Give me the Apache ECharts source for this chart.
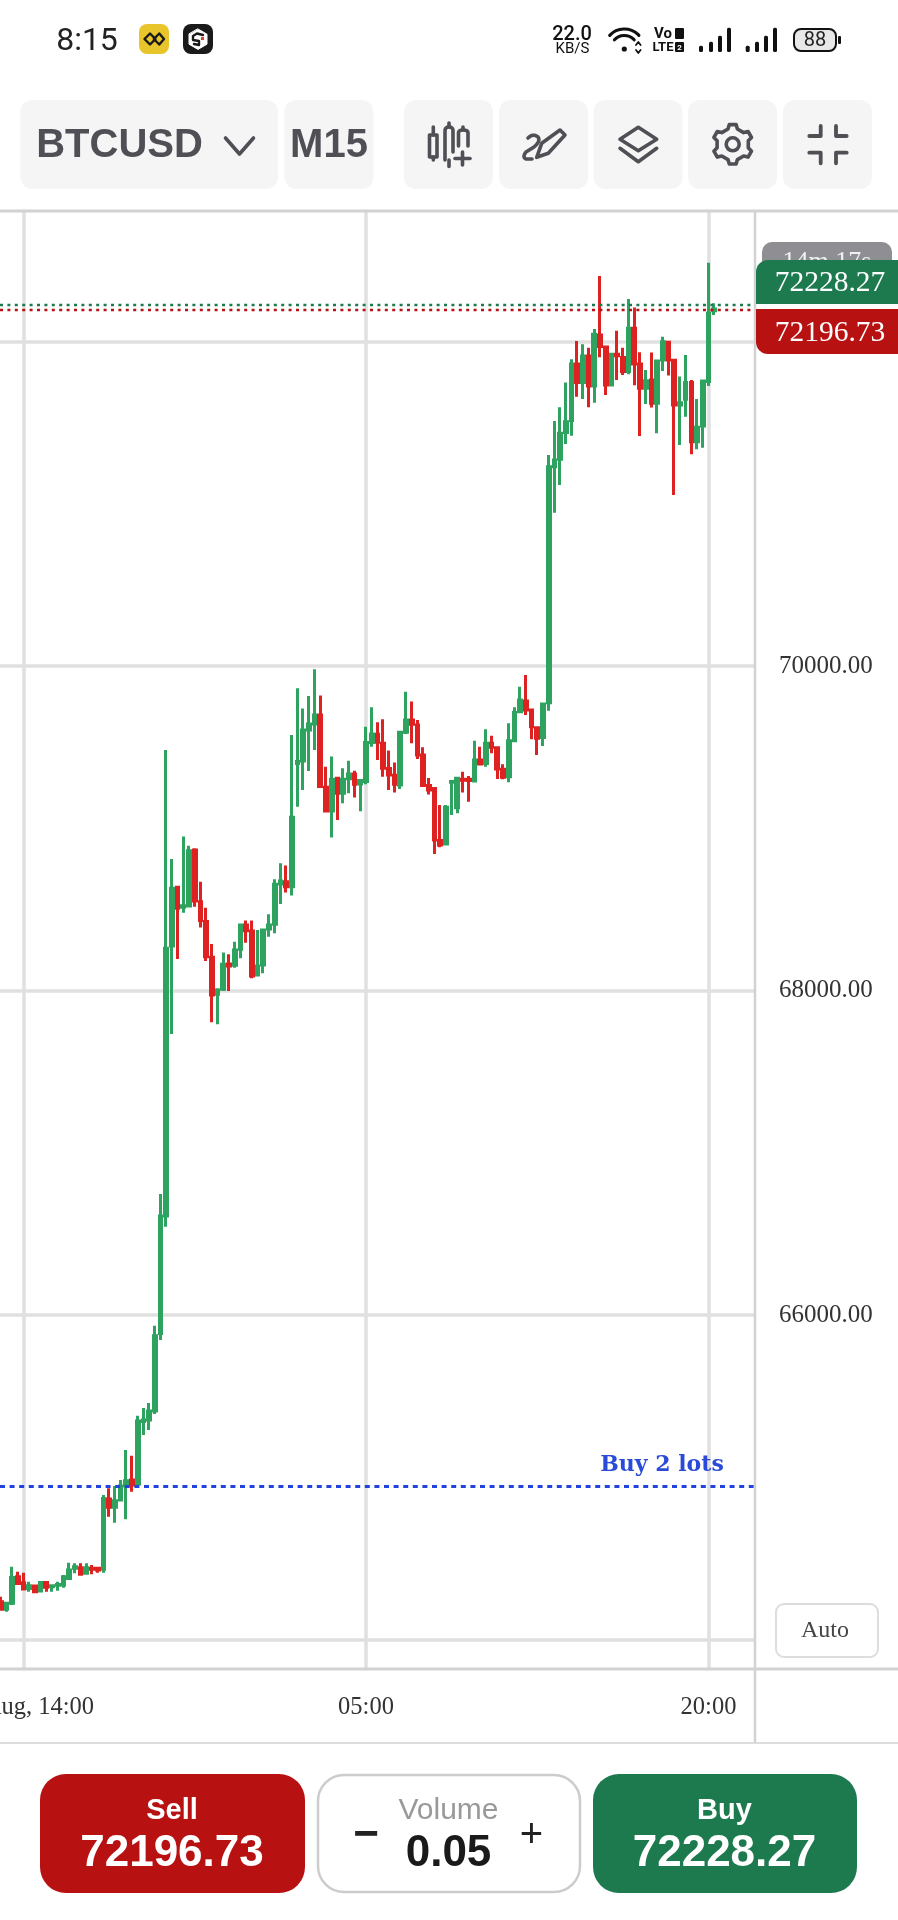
<!DOCTYPE html>
<html><head><meta charset="utf-8">
<style>html,body{margin:0;padding:0;background:#fff}#c{width:898px;height:1920px}</style>
<script src="https://cdn.jsdelivr.net/npm/echarts@6/dist/echarts.min.js"></script>
</head><body><div id="c"></div>
<script>
// candles, M15, slot 0 = 14 Aug 14:00
const firstSlot = -4;
const opens = [64234,64187,64224,64388,64351,64316,64331,64300,64353,64327,64335,64337,64378,64440,64444,64409,64440,64440,64434,64867,64816,64861,64947,64984,64960,65345,65354,65410,65888,66611,
68276,68637,68514,68522,68867,68549,68426,68206,67978,68009,68165,68157,68255,68405,68368,68097,68159,68381,68409,68658,68672,68641,69401,69416,69607,69644,69699,69254,69108,69309,
69217,69307,69336,69274,69289,69529,69580,69525,69369,69328,69268,69593,69669,69638,69453,69264,69247,68925,68904,69284,69128,69303,69303,69293,69422,69401,69525,69498,69365,69319,
69541,69720,69786,69730,69621,69560,69775,71230,71275,71440,71514,71863,71748,71912,71727,72042,71968,71733,71922,71902,71816,72083,71863,71713,71764,71620,71887,71996,71885,71610,
71645,71748,71384,71481,71754,72191];
const closes = [64187,64224,64384,64347,64312,64333,64296,64353,64323,64333,64341,64388,64430,64450,64403,64444,64434,64430,64871,64816,64857,64947,64980,64953,65348,65354,65410,65874,66611,68261,
68631,68508,68524,68863,68553,68432,68210,67974,68005,68163,68152,68251,68405,68370,68091,68152,68374,68405,68656,68676,68641,69069,69412,69607,69644,69699,69258,69108,69303,69217,
69303,69336,69272,69295,69529,69582,69531,69371,69330,69272,69593,69669,69642,69453,69264,69237,68929,68898,69130,69289,69309,69297,69295,69422,69397,69525,69500,69367,69315,69541,
69714,69792,69730,69627,69556,69767,71230,71271,71435,71507,71863,71748,71912,71727,72046,71970,71733,71922,71914,71816,72083,71863,71713,71760,71620,71881,72000,71887,71610,71624,
71748,71384,71472,71758,72175,72202];
const lows = [64179,64173,64214,64343,64312,64296,64286,64296,64296,64296,64302,64321,64374,64409,64399,64405,64403,64413,64413,64758,64721,64861,64742,64912,64953,65262,65293,65391,65847,66545,
67733,68196,68481,68518,68518,68389,68183,67805,67793,67998,67998,68142,68200,68296,68076,68091,68107,68333,68354,68535,68606,68586,69134,69237,69354,69484,69258,69104,68945,69052,
69155,69217,69190,69106,69272,69504,69422,69319,69237,69221,69243,69582,69525,69428,69258,69210,68843,68884,68900,69083,69093,69221,69165,69289,69395,69381,69463,69305,69303,69284,
69537,69716,69699,69549,69453,69508,69726,70946,71117,71370,71421,71661,71647,71596,71624,71904,71672,71729,71764,71795,71799,71731,71419,71616,71594,71435,71820,71791,71055,71364,
71538,71306,71337,71347,71727,72165];
const highs = [64265,64234,64450,64419,64413,64357,64337,64361,64361,64341,64357,64399,64475,64471,64471,64471,64460,64444,64892,64933,64947,64984,65169,65134,65381,65428,65459,65935,66747,69484,
68812,68646,68950,68894,68878,68672,68512,68288,68015,68235,68224,68302,68409,68432,68432,68374,68378,68471,68687,68785,68771,69576,69864,69740,69816,69981,69819,69381,69443,69313,
69371,69418,69356,69305,69627,69747,69654,69673,69480,69406,69601,69843,69782,69669,69500,69311,69252,69145,69145,69293,69315,69350,69323,69541,69504,69611,69572,69500,69395,69648,
69747,69874,69946,69734,69627,69771,71302,71511,71596,71748,71892,72004,71984,71963,72078,72405,71970,71924,72068,71963,72263,72210,71935,71826,71933,71883,72031,72000,71887,71785,
71918,71764,71647,71760,72487,72237];
const priceTicks = [64000,66000,68000,70000,72000];
const timeSlots = [0,60,120];
const timeLabels = ['14 Aug, 14:00','05:00','20:00'];
const askPrice = 72228.27, bidPrice = 72196.73, buyPrice = 64947;
const symbol='BTCUSD', timeframe='M15', volume='0.05', buyText='Buy 2 lots', countdown='14m 17s';

const candles = opens.map((o,i)=>[firstSlot+i,o,closes[i],lows[i],highs[i]]);
const UP='#2EA35F', DOWN='#DE2222', GRID='#E0E0E0', EDGE='#D2D2D2', ICON='#4F4F55';
const SERIF='"Liberation Serif"', SANS='Roboto', HELV='"Liberation Sans"';

const els=[];
const rect=(x,y,w,h,r,fill,extra)=>els.push({type:'rect',z:100,shape:{x,y,width:w,height:h,r},style:Object.assign({fill},extra||{})});
const text=(t,x,y,font,fill,align)=>els.push({type:'text',z:100,style:{text:t,x,y,font,fill,align:align||'center',verticalAlign:'middle'}});
const line=(x1,y1,x2,y2,c,w)=>els.push({type:'line',z:100,shape:{x1,y1,x2,y2},style:{stroke:c,lineWidth:w}});
// small outline helper: M L H V Q Z commands become polylines / polygons
function stroke(d,color,w,fill){
  const toks=d.match(/[MLHVQZ]|-?[\d.]+/g);let i=0,cur=null,x=0,y=0;
  const flush=(closed)=>{if(cur&&cur.length>1)els.push({type:closed?'polygon':'polyline',z:100,shape:{points:cur},style:{stroke:color,lineWidth:w,fill:closed?(fill||'none'):'none',lineCap:'round',lineJoin:'round'}});cur=null;};
  while(i<toks.length){const c=toks[i++];
    if(c==='M'){flush(false);x=+toks[i++];y=+toks[i++];cur=[[x,y]];}
    else if(c==='L'){x=+toks[i++];y=+toks[i++];cur.push([x,y]);}
    else if(c==='H'){x=+toks[i++];cur.push([x,y]);}
    else if(c==='V'){y=+toks[i++];cur.push([x,y]);}
    else if(c==='Q'){const a=+toks[i++],b=+toks[i++],e=+toks[i++],f=+toks[i++];for(let t=1;t<=8;t++){const s=t/8;cur.push([(1-s)*(1-s)*x+2*s*(1-s)*a+s*s*e,(1-s)*(1-s)*y+2*s*(1-s)*b+s*s*f]);}x=e;y=f;}
    else if(c==='Z'){flush(true);}
  }
  flush(false);
}

// chart frame
line(0,211,898,211,EDGE,3);
line(0,1669,898,1669,EDGE,3);
line(755,211,755,1743,EDGE,2.5);
line(0,1743,898,1743,EDGE,1.5);

// price tags
rect(762,242,130,40,[10,10,0,0],'#8E8E93');
text(countdown,827,262,'26px '+SERIF,'#F0F0F0');
rect(756,260,142,44,[12,0,0,0],'#1D7A4F');
text('72228.27',830,283,'29.5px '+SERIF,'#FFFFFF');
rect(756,309,142,45,[0,0,0,12],'#B81111');
text('72196.73',830,333,'29.5px '+SERIF,'#FFFFFF');
// buy label
text(buyText,662,1465,'bold 22px "DejaVu Serif"','#2A4BD7');
// auto
rect(776,1604,102,53,8,'#FFFFFF',{stroke:'#DDDDDD',lineWidth:2});
text('Auto',825,1631,'24px '+SERIF,'#444444');

// status bar
text('8:15',87,42,'32px '+SANS,'#222222');
rect(139,24,30,30,8,'#E8C52A');
stroke('M144.5 39L150 33.5L155.5 39L150 44.5ZM153.8 39L159.3 33.5L164 39L159.3 44.5Z','#1A1A1A',2.4);
rect(183,24,30,30,8,'#1A1A1A');
stroke('M198 29L207 34.2V44.2L198 49.4L189 44.2V34.2Z','#FFFFFF',1,'#FFFFFF');
stroke('M203 35L197 33.5L193 36V40L199 41V45L194 44','#1A1A1A',2.4);
rect(201,37,3,3,0,'#D9432F');
text('22.0',572,34.5,'500 20px '+SANS,'#111111');
text('KB/S',572.5,49.5,'15px '+SANS,'#111111');
[20,13.5].forEach(r=>els.push({type:'arc',z:100,shape:{cx:624.3,cy:49,r,startAngle:-Math.PI*0.76,endAngle:-Math.PI*0.24},style:{stroke:'#111111',lineWidth:3.2,fill:'none',lineCap:'round'}}));
els.push({type:'circle',z:100,shape:{cx:624.3,cy:49,r:2.6},style:{fill:'#111111'}});
stroke('M636 45L638.3 42L640.6 45M636 50L638.3 53L640.6 50','#111111',1.8);
text('Vo',663,34.5,'bold 15px '+SANS,'#111111');
text('LTE',663,48,'bold 13px '+SANS,'#111111');
rect(675,28,9,11,1,'#111111');
rect(675,42,9,10,1,'#111111');
text('2',679.5,48,'bold 8px '+SANS,'#FFFFFF');
[[699,45.7],[709,41.7],[718,35.7],[727,27.7],[745.7,45.7],[755,41.7],[764,35.7],[773,27.7]].forEach(b=>rect(b[0],b[1],4,52-b[1],1.5,'#111111'));
rect(794,29,42,22,7,'#E8E8E8',{stroke:'#111111',lineWidth:2});
text('88',815,41,'20px '+SANS,'#222222');
rect(838,36,3,8,1,'#111111');

// toolbar
[[20.5,257.5],[284.5,89],[404,89],[499,89],[593.5,89],[688,89],[783,89]].forEach(b=>rect(b[0],100,b[1],89,12,'#F5F5F5'));
text(symbol,119.5,146,'bold 40px '+HELV,ICON);
stroke('M225.5 138L239.5 154L253.5 138',ICON,3.6);
text(timeframe,329,146,'bold 40px '+HELV,ICON);
// candles-plus icon
stroke('M433.3 127V135M429.5 135H437V157H429.5ZM433.3 157V160M449 123V127M445 160V131Q445 127 449 127Q453 127 453 131V152M449 160V166.5M458.5 146V133Q458.5 130 463 130Q468 130 468 133V146M463 127V130',ICON,3.6);
stroke('M455 158.5H470M462.5 152V165',ICON,3.6);
// pen icon
stroke('M536.7 157.3L541.7 143.3L560 130L565 135L548.3 153.3ZM528 138Q533 133 538 137Q541 141 534 147L526 152Q522 157 526 159L532 159',ICON,3.6);
// layers icon
stroke('M638.3 127.3L656.7 139.3L638.3 150.7L620 139.3ZM620 148.3L638.3 161.7L656.7 148.3',ICON,3.6);
// gear icon
(function(){const cx=732.7,cy=144.3;let d='';for(let k=0;k<6;k++){const a=k*Math.PI/3-Math.PI/2;[[-0.30,16],[-0.17,20],[0.17,20],[0.30,16]].forEach(p=>{const t=a+p[0];d+=(d?'L':'M')+(cx+p[1]*Math.cos(t)).toFixed(1)+' '+(cy+p[1]*Math.sin(t)).toFixed(1)});}stroke(d+'Z',ICON,3.6);})();
els.push({type:'circle',z:100,shape:{cx:732.7,cy:144.3,r:6.5},style:{stroke:ICON,lineWidth:3.6,fill:'none'}});
// minimize icon
stroke('M809.3 136H820.7V126M836 126V136H846.7M809.3 152.7H820.7V163.3M846.7 152.7H836V163.3',ICON,3.8);

// bottom bar
rect(40,1774,265,119,26,'#B81111');
rect(318,1775,262,117,26,'#FFFFFF',{stroke:'#CCCCCC',lineWidth:2.5});
rect(593,1774,264,119,26,'#1D7A4F');
text('Sell',172,1811,'bold 29px '+HELV,'#FFFFFF');
text('72196.73',172,1854,'bold 44px '+HELV,'#FFFFFF');
text('Volume',448.5,1811,'30px '+HELV,'#999999');
text(volume,448.5,1854,'bold 44px '+HELV,'#1A1A1A');
text('−',366,1836,'bold 44px '+HELV,'#222222');
text('+',531.5,1836,'40px '+HELV,'#222222');
text('Buy',724.5,1811,'bold 29px '+HELV,'#FFFFFF');
text('72228.27',724.5,1854,'bold 44px '+HELV,'#FFFFFF');

const chart=echarts.init(document.getElementById('c'),null,{renderer:'canvas'});
chart.setOption({
  animation:false,
  backgroundColor:'#fff',
  grid:{left:0,right:143,top:211,bottom:251,containLabel:false,outerBoundsMode:'none'},
  xAxis:{type:'value',min:-4.117,max:128.15,containShape:false,
    axisLine:{show:false},
    axisTick:{show:false,customValues:timeSlots},
    splitLine:{show:true,lineStyle:{color:GRID,width:3.5}},
    axisLabel:{customValues:timeSlots,margin:26,color:'#333',fontFamily:SERIF,fontSize:24.5,
      hideOverlap:false,formatter:v=>timeLabels[timeSlots.indexOf(v)]}},
  yAxis:{type:'value',position:'right',min:63819.5,max:72805.5,scale:true,
    axisLine:{show:false},
    axisTick:{show:false,customValues:priceTicks},
    splitLine:{show:true,lineStyle:{color:GRID,width:3.5}},
    axisLabel:{customValues:priceTicks,margin:24,color:'#333',fontFamily:SERIF,fontSize:25,
      padding:[0,0,6,0],formatter:v=>v.toFixed(2)}},
  series:[{type:'candlestick',barWidth:3.2,data:candles,encode:{x:0,y:[1,2,3,4]},
    itemStyle:{color:UP,color0:DOWN,borderColor:UP,borderColor0:DOWN,borderWidth:3},
    markLine:{silent:true,symbol:'none',label:{show:false},animation:false,
      data:[
        {yAxis:askPrice,lineStyle:{color:'#1D7A4F',width:2.4,type:[3,4.4]}},
        {yAxis:bidPrice,lineStyle:{color:'#B81111',width:2.4,type:[3,4.4]}},
        {yAxis:buyPrice,lineStyle:{color:'#2244DD',width:3,type:[5,4.6]}}
      ]}}],
  graphic:{elements:els}
});
</script></body></html>
